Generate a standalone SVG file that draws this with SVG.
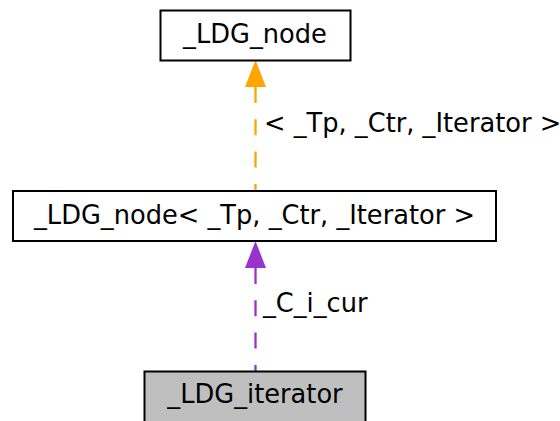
<svg xmlns="http://www.w3.org/2000/svg" width="560" height="421" viewBox="0 0 560 421">
<style>
.box{fill:#ffffff;stroke:#000000;stroke-width:2}
.t{font-family:"DejaVu Sans",sans-serif;font-size:25.7px;fill:#000000}
.mid{text-anchor:middle}
.e{fill:none;stroke-width:2.3;stroke-dasharray:16,16.3}
</style>
<rect width="560" height="421" fill="#ffffff"/>
<g id="connectors">
<g id="edge1">
<path class="e" d="M255.5,87 L255.5,190" stroke="#ffa500"/>
<polygon points="255.5,60 245,87 266,87" fill="#ffa500"/>
<text class="t" x="264" y="132">&lt; _Tp, _Ctr, _Iterator &gt;</text>
</g>
<g id="edge2">
<path class="e" d="M255.5,268 L255.5,371" stroke="#9a32cd"/>
<polygon points="255.5,241 245,268 266,268" fill="#9a32cd"/>
<text class="t" x="263" y="312">_C_i_cur</text>
</g>
</g>
<g id="node_LDG_node">
<rect class="box" x="160.5" y="10.5" width="190" height="50"/>
<text class="t mid" x="255" y="43">_LDG_node</text>
</g>
<g id="node_LDG_node_tpl">
<rect class="box" x="13" y="191" width="483" height="50"/>
<text class="t mid" x="254.5" y="224">_LDG_node&lt; _Tp, _Ctr, _Iterator &gt;</text>
</g>
<g id="node_LDG_iterator">
<rect class="box" x="144.5" y="371.5" width="221" height="55" style="fill:#bfbfbf"/>
<text class="t mid" x="255" y="403">_LDG_iterator</text>
</g>
</svg>
